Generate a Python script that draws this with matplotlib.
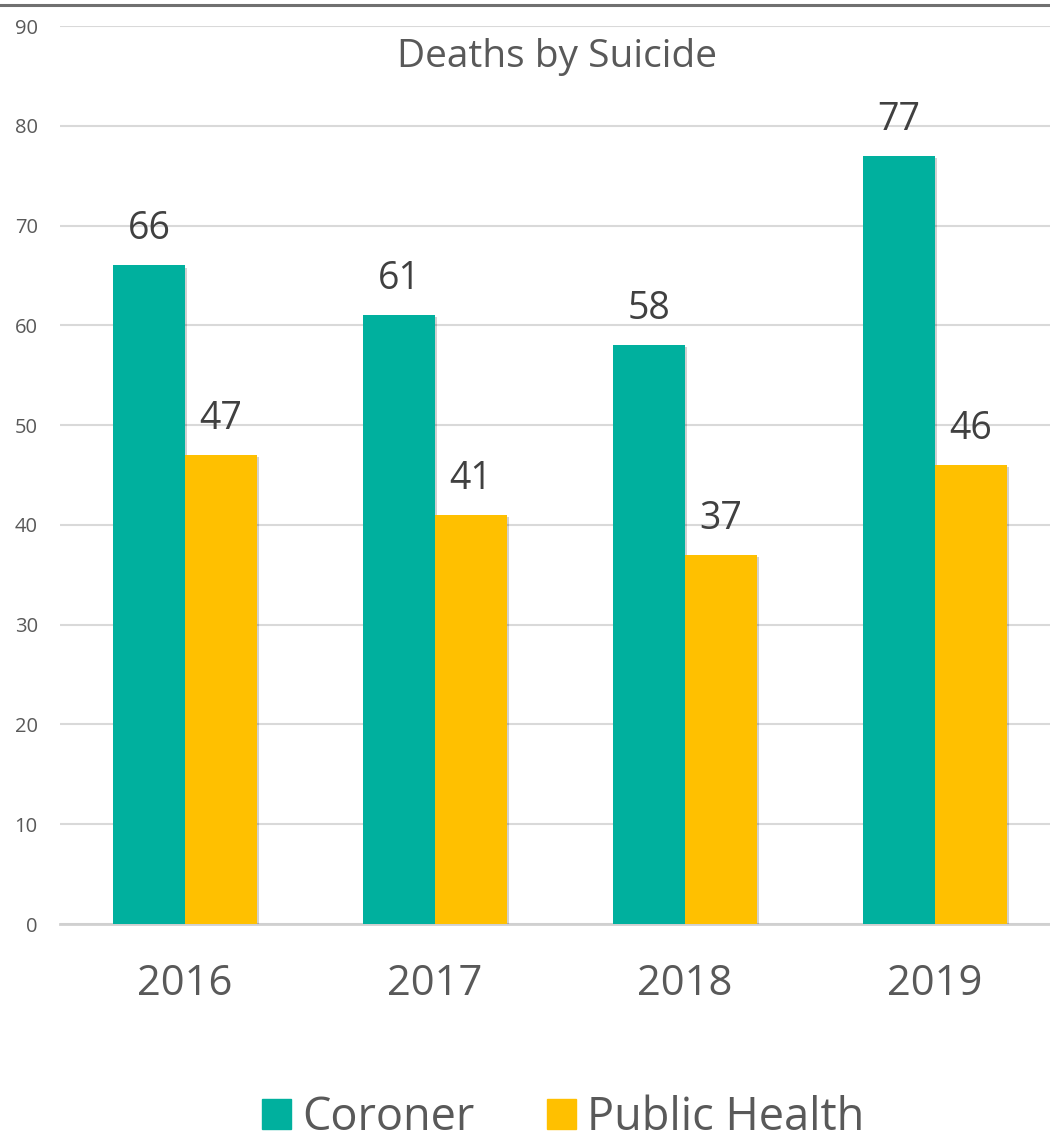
import matplotlib
matplotlib.use('Agg')
import matplotlib.pyplot as plt
from matplotlib.patches import Patch
from matplotlib.lines import Line2D
import matplotlib.patheffects as pe
import numpy as np

# 数据
years = ['2016', '2017', '2018', '2019']
coroner = [66, 61, 58, 77]
public_health = [47, 41, 37, 46]

teal = '#00B09E'
gold = '#FFC000'
grey_text = '#595959'
label_text = '#404040'

plt.rcParams['font.family'] = ['Open Sans', 'DejaVu Sans']

W, H = 1050, 1141
fig = plt.figure(figsize=(W / 100, H / 100), dpi=100)
ax = fig.add_axes([60 / W, (H - 924) / H, 1000 / W, 898 / H])

x = np.arange(len(years))
bw = 0.288
shadow = [pe.SimplePatchShadow(offset=(1.5, -1.5), shadow_rgbFace='#000000', alpha=0.18), pe.Normal()]
b1 = ax.bar(x - bw / 2, coroner, bw, color=teal, zorder=3, path_effects=shadow)
b2 = ax.bar(x + bw / 2, public_health, bw, color=gold, zorder=3, path_effects=shadow)

for bars, vals in [(b1, coroner), (b2, public_health)]:
    for r, v in zip(bars, vals):
        ax.annotate(str(v), (r.get_x() + r.get_width() / 2, v), xytext=(0, 26),
                    textcoords='offset points', ha='center', va='center',
                    fontsize=27, color=label_text)

ax.set_xlim(-0.5, 3.5)
ax.set_ylim(0, 90)
ax.set_yticks(range(0, 91, 10))
ax.set_xticks(x)
ax.set_xticklabels(years)
ax.tick_params(axis='y', length=0, pad=16, labelsize=14.5, labelcolor=grey_text)
ax.tick_params(axis='x', length=0, pad=28, labelsize=30, labelcolor=grey_text)
ax.grid(axis='y', color='#D9D9D9', linewidth=1.5, zorder=0)
ax.set_axisbelow(True)
for s in ['top', 'right', 'left']:
    ax.spines[s].set_visible(False)
ax.spines['bottom'].set_color('#D0D0D0')
ax.spines['bottom'].set_linewidth(2)

# 标题
fig.text(557 / W, 1 - 57 / H, 'Deaths by Suicide', ha='center', va='center',
         fontsize=28, color=grey_text)

# 顶部灰线
fig.add_artist(Line2D([0, 1], [1 - 5 / H, 1 - 5 / H], color='#707070', linewidth=2.2,
                      transform=fig.transFigure))

# 图例
handles = [Patch(color=teal, label='Coroner'), Patch(color=gold, label='Public Health')]
leg = fig.legend(handles=handles, loc='center', bbox_to_anchor=(563 / W, 1 - 1118 / H),
                 ncol=2, frameon=False, fontsize=32.5, handlelength=0.65, handleheight=0.65,
                 handletextpad=0.25, columnspacing=1.6, borderpad=0)
for t in leg.get_texts():
    t.set_color(grey_text)

fig.savefig('out.png', dpi=100, facecolor='white')
